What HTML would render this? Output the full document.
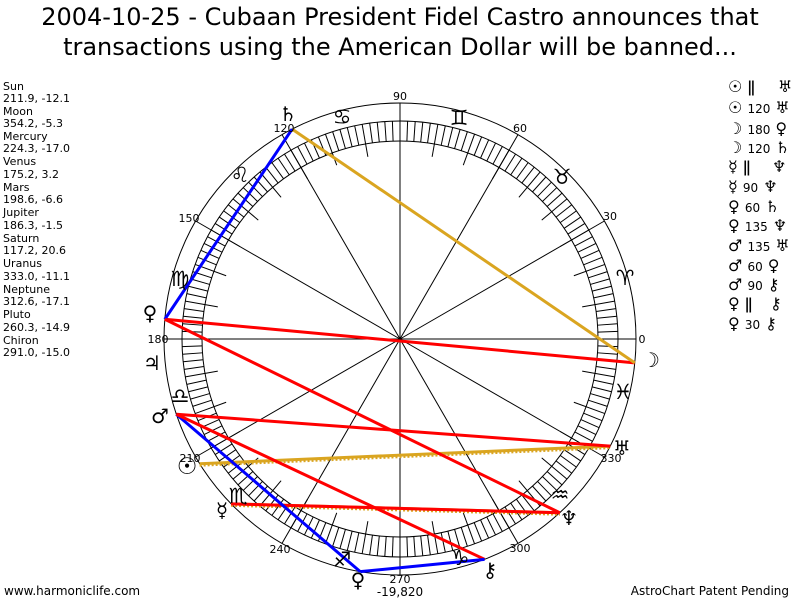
<!DOCTYPE html>
<html><head><meta charset="utf-8">
<style>
html,body{margin:0;padding:0;background:#fff;}
body{width:800px;height:600px;overflow:hidden;position:relative;}
svg{position:absolute;left:0;top:0;}
.t{font-family:"DejaVu Sans","Liberation Sans",sans-serif;}
.s{font-family:"DejaVu Sans",sans-serif;}
</style></head><body>
<svg id="c" width="800" height="600" xmlns="http://www.w3.org/2000/svg">
<text class="t" x="400" y="25" font-size="24" text-anchor="middle">2004-10-25 - Cubaan President Fidel Castro announces that</text>
<text class="t" x="400" y="55" font-size="24" text-anchor="middle">transactions using the American Dollar will be banned...</text>
<g id="g"></g>
<g class="t" font-size="11" fill="#000">
<text x="3" y="90">Sun</text><text x="3" y="102">211.9, -12.1</text>
<text x="3" y="115">Moon</text><text x="3" y="127">354.2, -5.3</text>
<text x="3" y="140">Mercury</text><text x="3" y="152">224.3, -17.0</text>
<text x="3" y="165">Venus</text><text x="3" y="178">175.2, 3.2</text>
<text x="3" y="191">Mars</text><text x="3" y="203">198.6, -6.6</text>
<text x="3" y="216">Jupiter</text><text x="3" y="229">186.3, -1.5</text>
<text x="3" y="242">Saturn</text><text x="3" y="254">117.2, 20.6</text>
<text x="3" y="267">Uranus</text><text x="3" y="280">333.0, -11.1</text>
<text x="3" y="293">Neptune</text><text x="3" y="305">312.6, -17.1</text>
<text x="3" y="318">Pluto</text><text x="3" y="331">260.3, -14.9</text>
<text x="3" y="344">Chiron</text><text x="3" y="356">291.0, -15.0</text>
</g>
<g class="t" font-size="11" text-anchor="middle">
<text x="642" y="343">0</text><text x="610" y="220">30</text><text x="520" y="132">60</text>
<text x="400" y="100">90</text><text x="284" y="132">120</text><text x="189" y="222">150</text>
<text x="158" y="343">180</text><text x="190" y="462">210</text><text x="280" y="553">240</text>
<text x="400" y="583">270</text><text x="520" y="552">300</text><text x="611" y="462">330</text>
</g>
<g class="s" font-size="21" text-anchor="middle" dominant-baseline="central">
<text x="625" y="278">♈</text><text x="562" y="177">♉</text><text x="459" y="118">♊</text>
<text x="342" y="117">♋</text><text x="240" y="175">♌</text><text x="180" y="279">♍</text>
<text x="180" y="396">♎</text><text x="238" y="496">♏</text><text x="342" y="560">♐</text>
<text x="460" y="558">♑</text><text x="560" y="495">♒</text><text x="623" y="392">♓</text>
</g>
<g class="s" font-size="20" text-anchor="middle" dominant-baseline="central">
<text x="187" y="467" font-size="23">☉</text><text x="651" y="360">☽</text>
<text x="222" y="510">☿</text><text x="150" y="313">♀</text>
<text x="160" y="416">♂</text><text x="152" y="363">♃</text>
<text x="288" y="114">♄</text><text x="622" y="448">♅</text>
<text x="569" y="518">♆</text><text x="358" y="580">♀</text>
<text x="490" y="570">⚷</text>
</g>
<g class="s" font-size="16">
<text x="728" y="92">☉ ǁ</text><text x="778" y="92">♅</text>
<text x="728" y="113">☉ <tspan font-size="12">120</tspan> ♅</text>
<text x="728" y="134">☽ <tspan font-size="12">180</tspan> ♀</text>
<text x="728" y="153">☽ <tspan font-size="12">120</tspan> ♄</text>
<text x="728" y="172">☿ ǁ</text><text x="772" y="172">♆</text>
<text x="728" y="192">☿ <tspan font-size="12">90</tspan> ♆</text>
<text x="728" y="212">♀ <tspan font-size="12">60</tspan> ♄</text>
<text x="728" y="231">♀ <tspan font-size="12">135</tspan> ♆</text>
<text x="728" y="251">♂ <tspan font-size="12">135</tspan> ♅</text>
<text x="728" y="271">♂ <tspan font-size="12">60</tspan> ♀</text>
<text x="728" y="290">♂ <tspan font-size="12">90</tspan> ⚷</text>
<text x="728" y="309">♀ ǁ</text><text x="770" y="309">⚷</text>
<text x="728" y="329">♀ <tspan font-size="12">30</tspan> ⚷</text>
</g>
<g class="t" font-size="12">
<text x="4" y="595">www.harmoniclife.com</text>
<text x="400" y="596" text-anchor="middle">-19,820</text>
<text x="789" y="595" text-anchor="end">AstroChart Patent Pending</text>
</g>
</svg>
<script>
var g=document.getElementById('g'),cx=400,cy=339,R=236,NS='http://www.w3.org/2000/svg';
function el(n,a){var e=document.createElementNS(NS,n);for(var k in a)e.setAttribute(k,a[k]);g.appendChild(e);return e;}
function P(a,r){var t=a*Math.PI/180;return [cx+r*Math.cos(t),cy-r*Math.sin(t)];}
el('circle',{cx:cx,cy:cy,r:R,fill:'none',stroke:'#000','stroke-width':1});
el('circle',{cx:cx,cy:cy,r:218,fill:'none',stroke:'#000','stroke-width':1});
el('circle',{cx:cx,cy:cy,r:198,fill:'none',stroke:'#000','stroke-width':1});
for(var a=0;a<360;a+=2){var ri=(a%10==0)?185:198;var p=P(a,ri),q=P(a,218);
el('line',{x1:p[0],y1:p[1],x2:q[0],y2:q[1],stroke:'#000','stroke-width':1});}
for(var a=0;a<360;a+=30){var q=P(a,R);el('line',{x1:cx,y1:cy,x2:q[0],y2:q[1],stroke:'#000','stroke-width':1});}
var pl={su:211.9,mo:354.2,me:224.3,ve:175.2,ma:198.6,sa:117.2,ur:333,ne:312.6,pl:260.3,ch:291};
var red='#ff0000',blue='#0000ff',gold='#daa520';
var L=[['su','ur',gold,1],['mo','ve',red],['mo','sa',gold],['me','ne',gold,1],['me','ne',red],['ve','sa',blue],['ve','ne',red],['ma','ur',red],['ma','pl',blue],['ma','ch',red],['pl','ch',blue]];
L.forEach(function(l){var p=P(pl[l[0]],R),q=P(pl[l[1]],R);
if(l[3])el('line',{x1:p[0],y1:p[1]+2,x2:q[0],y2:q[1]+2,stroke:l[2],'stroke-width':2,'stroke-dasharray':'2 2'});
el('line',{x1:p[0],y1:p[1],x2:q[0],y2:q[1],stroke:l[2],'stroke-width':3});});
</script>
</body></html>
